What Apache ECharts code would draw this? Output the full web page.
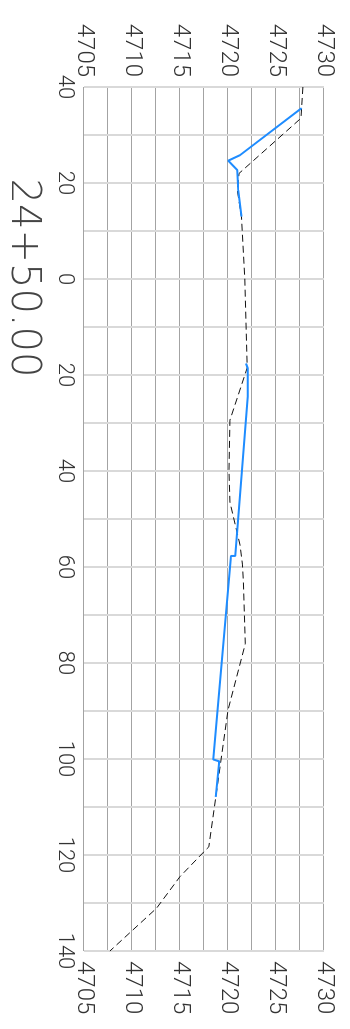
<!DOCTYPE html>
<html>
<head>
<meta charset="utf-8">
<script src="https://cdn.jsdelivr.net/npm/echarts@6/dist/echarts.min.js"></script>
<style>
  html, body { margin: 0; padding: 0; background: #fff; width: 350px; height: 1029px; overflow: hidden; }
  /* The section is laid out landscape and turned a quarter turn clockwise onto the portrait page */
  #chart {
    position: absolute; left: 0; top: 0;
    width: 1029px; height: 350px;
    transform-origin: 0 0;
    transform: translateX(350px) rotate(90deg);
  }
</style>
</head>
<body>
<div id="chart"></div>
<script>
// Station label
const stationLabel = '24+50.00';

// Existing ground profile (dashed): offset from centreline, elevation
const groundOffsets = [-40, -33.5, -22, -18.5, -13, 0, 18.5, 29.4, 40, 46.5, 55.4, 59.4, 63, 76, 89.8, 118.3, 119, 124.5, 131.1, 140];
const groundElev    = [4727.8, 4727.6, 4721.15, 4720.97, 4721.4, 4721.75, 4722.0, 4720.2, 4720.1, 4720.2, 4721.25, 4721.5, 4721.6, 4721.8, 4720.0, 4718.0, 4717.65, 4715.0, 4712.55, 4707.7];

// Proposed section (solid); null marks the break in the line
const proposedOffsets = [-35.6, -25.8, -24.65, -22.7, -18.5, -13, 2, 17.6, 18.6, 24.5, 57.7, 57.7, 100.1, 100.5, 107.9];
const proposedElev    = [4727.67, 4721.25, 4720.03, 4720.97, 4721.07, 4721.4, null, 4721.88, 4722.05, 4722.05, 4720.75, 4720.3, 4718.47, 4719.1, 4718.72];

// Axis ranges and tick steps
const offsetMin = -40, offsetMax = 140, offsetStep = 10, offsetLabelStep = 20;
const elevMin = 4705, elevMax = 4730, elevStep = 2.5, elevLabelStep = 5;

const pairs = (xs, ys) => xs.map((x, i) => [x, ys[i] === null ? '-' : ys[i]]);

const labelFont = { color: '#333', fontFamily: 'Roboto', fontWeight: 300 };

const elevAxis = (position, withGrid) => ({
  type: 'value',
  position: position,
  min: elevMin, max: elevMax, interval: elevStep,
  axisLine: { show: false },
  axisTick: { show: false },
  axisLabel: Object.assign({
    fontSize: 24,
    margin: 10,
    formatter: v => (Math.abs(v % elevLabelStep) < 1e-9 ? String(v) : '')
  }, labelFont),
  splitLine: { show: withGrid, lineStyle: { color: '#a3a3a3', width: 1 } }
});

const chart = echarts.init(document.getElementById('chart'), null, { renderer: 'canvas' });
chart.setOption({
  animation: false,
  backgroundColor: '#fff',
  grid: { left: 87, right: 78, top: 26, bottom: 84, containLabel: false },
  xAxis: {
    type: 'value',
    min: offsetMin, max: offsetMax, interval: offsetStep,
    axisLine: { show: false },
    axisTick: { show: false },
    axisLabel: Object.assign({
      fontSize: 22,
      margin: 8,
      formatter: v => (Math.abs(v % offsetLabelStep) < 1e-9 ? String(Math.abs(v)) : '')
    }, labelFont),
    splitLine: { show: true, lineStyle: { color: '#d9d9d9', width: 2 } }
  },
  yAxis: [elevAxis('left', true), elevAxis('right', false)],
  graphic: [{
    type: 'text',
    x: 278, y: 328,
    style: {
      text: stationLabel,
      font: "200 40px 'DejaVu Sans'",
      fill: '#444',
      align: 'center',
      verticalAlign: 'middle'
    }
  }],
  series: [
    {
      name: 'Existing ground',
      type: 'line',
      yAxisIndex: 0,
      data: pairs(groundOffsets, groundElev),
      showSymbol: false,
      symbol: 'none',
      lineStyle: { color: '#111', width: 1, type: [7, 4] },
      z: 3
    },
    {
      name: 'Proposed',
      type: 'line',
      yAxisIndex: 0,
      data: pairs(proposedOffsets, proposedElev),
      showSymbol: false,
      symbol: 'none',
      connectNulls: false,
      lineStyle: { color: '#1e8cff', width: 2 },
      z: 4
    }
  ]
});
</script>
</body>
</html>
